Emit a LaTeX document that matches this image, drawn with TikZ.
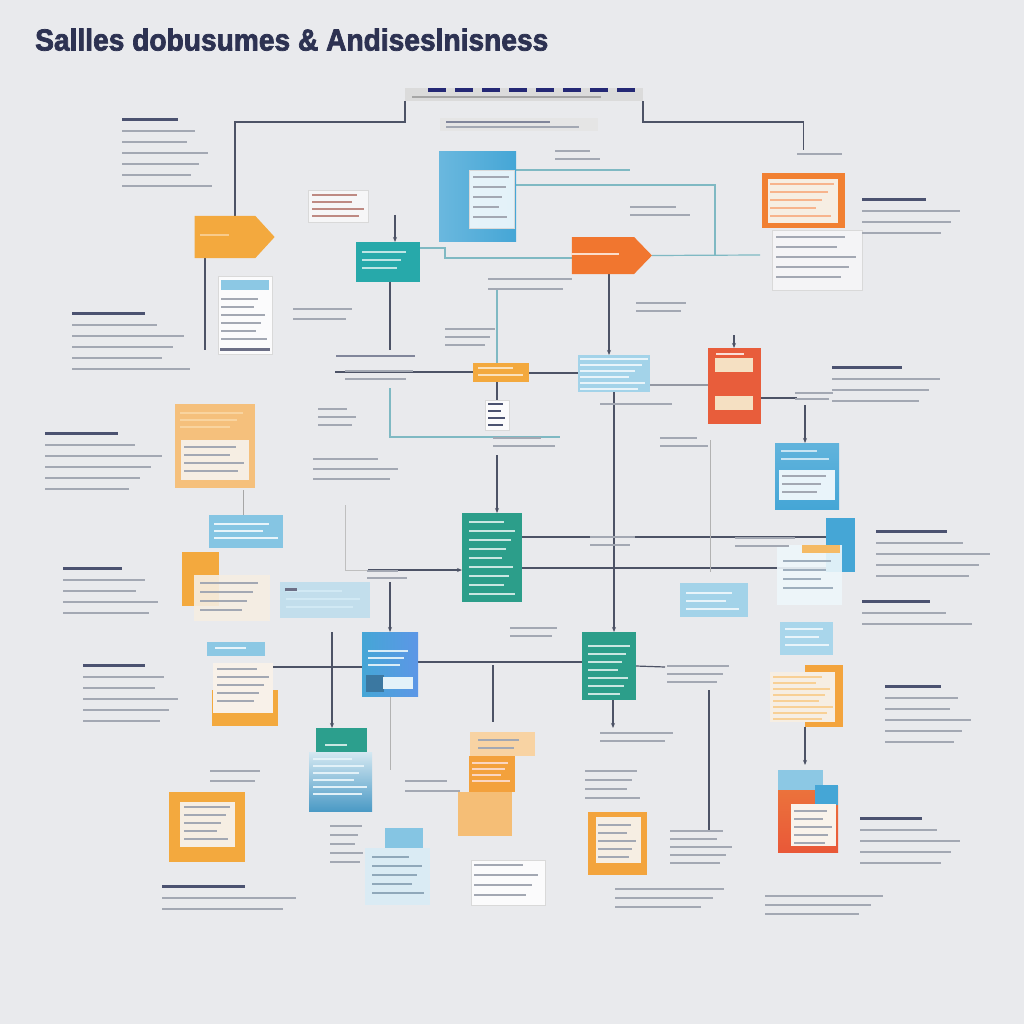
\documentclass[tikz,border=0pt]{standalone}
\usepackage{fontspec}
\newfontfamily\titlefont{Liberation Sans}[BoldFeatures={FakeBold=2.5}]
\usetikzlibrary{shapes.symbols,arrows.meta}
\definecolor{bgc}{HTML}{E9EAED}
\definecolor{navy}{HTML}{2D3252}
\definecolor{txt}{HTML}{A3A8B3}
\definecolor{head}{HTML}{4B5270}
\definecolor{lnc}{HTML}{4D5366}
\definecolor{lnt}{HTML}{7FB9C3}
\definecolor{orng}{HTML}{F3A93E}
\definecolor{orngl}{HTML}{F5C07C}
\definecolor{orred}{HTML}{F1762F}
\definecolor{tealc}{HTML}{27A9AA}
\definecolor{grn}{HTML}{2C9E8A}
\definecolor{bluec}{HTML}{45A6D6}
\definecolor{skyb}{HTML}{8CC8E4}
\definecolor{paleb}{HTML}{C2DEEC}
\definecolor{redc}{HTML}{E85D3B}
\definecolor{cream}{HTML}{F6EEE3}
\pgfdeclarelayer{back}
\pgfsetlayers{back,main}
\newcommand\mybars[6]{\foreach \i in {1,...,#5}{\pgfmathsetmacro\f{0.72+0.28*mod(\i*5+#3,7)/6}\fill[#1] (#2,{#3+(\i-1)*#6}) rectangle ++({#4*\f},2.4);}}
\newcommand\mytb[4]{\fill[head] (#1,#2) rectangle ++({0.62*#3},3);\mybars{txt}{#1}{#2+12}{#3}{#4}{11}}
\tikzset{
  bx/.style={inner sep=0pt, outer sep=0pt, draw=none},
  sig/.style={bx, shape=signal, signal to=east},
  panel/.style={bx, fill=white, fill opacity=0.85, draw=black!15, line width=0.4pt},
  conn/.style={draw=lnc, line width=1.2pt},
  connl/.style={draw=lnc!60, line width=1.1pt},
  connt/.style={draw=lnt, line width=1.2pt},
  arr/.style={-{Stealth[length=5pt,width=4pt]}}
}
\begin{document}
\begin{tikzpicture}[x=1pt,y=-1pt]
\begin{pgfonlayer}{back}
\fill[bgc] (0,0) rectangle (1024,1024);
\end{pgfonlayer}
\useasboundingbox (0,0) rectangle (1024,1024);
% title
\node[anchor=south west, inner sep=0pt, text=navy] (title) at (35,51) {\resizebox{513pt}{22pt}{\titlefont\bfseries Sallles dobusumes \& Andiseslnisness}};
% header
\node[bx, fill=black!14, minimum width=238pt, minimum height=13pt] (hdr) at (524,95) {};
\foreach \x in {428,455,...,630}{\fill[navy!80!blue] (\x,88.5) rectangle ++(18,4);}
\mybars{black!35}{412}{96}{220}{1}{4}
\node[bx, fill=black!10, minimum width=158pt, minimum height=13pt] (sub) at (519,124.5) {};
\mybars{head!70}{446}{121}{145}{1}{5}
\mybars{txt}{446}{126}{140}{1}{5}
% boxes
\node[sig, fill=orng, minimum width=80pt, minimum height=42pt, signal pointer angle=95] (a1) at (225,237) {};
\mybars{orng!60!white}{200}{234}{38}{1}{5}
\node[bx, fill=tealc, minimum width=64pt, minimum height=40pt] (t1) at (388,262) {};
\mybars{white!70!tealc}{362}{251}{48}{3}{8}
\node[bx, left color=bluec!80!white, right color=bluec, minimum width=77pt, minimum height=89pt] (b1) at (477.5,196.5) {};
\node[panel, minimum width=45pt, minimum height=58pt] (b1p) at (492,199) {};
\mybars{txt}{473}{176}{36}{5}{10}
\node[sig, fill=orred, minimum width=80pt, minimum height=37pt, signal pointer angle=92] (a2) at (603,255.5) {};
\mybars{white!75!orred}{571}{253}{48}{1}{5}
\node[bx, fill=orred!80!orng, minimum width=83pt, minimum height=55pt] (o1) at (803.5,200.5) {};
\node[bx, fill=cream, minimum width=70pt, minimum height=44pt] (o1p) at (803,201) {};
\mybars{orred!55!white}{770}{183}{64}{5}{8}
\node[panel, minimum width=90pt, minimum height=60pt, fill opacity=0.5] (w0) at (817,260) {};
\mybars{txt}{776}{236}{80}{5}{10}
\node[bx, fill=redc, minimum width=53pt, minimum height=76pt] (r1) at (734.5,386) {};
\fill[cream!80!orng] (715,358) rectangle ++(38,14);
\fill[cream!80!orng] (715,396) rectangle ++(38,14);
\mybars{white!80!redc}{716}{353}{36}{1}{4}
\node[bx, top color=bluec!85!white, bottom color=bluec, minimum width=64pt, minimum height=66pt] (bl1) at (807,476) {};
\node[bx, fill=white!88!bluec, minimum width=56pt, minimum height=30pt] (bl1p) at (807,485) {};
\mybars{white!70!bluec}{781}{450}{50}{2}{8}
\mybars{txt}{782}{475}{48}{3}{8}
\node[bx, fill=orng, minimum width=56pt, minimum height=19pt] (os) at (501,372.5) {};
\mybars{white!65!orng}{478}{367}{45}{2}{7}
\node[bx, fill=skyb!80!white, minimum width=72pt, minimum height=37pt] (lb1) at (614,373.5) {};
\mybars{white!80!skyb}{580}{358}{68}{6}{6}
\node[bx, fill=grn, minimum width=60pt, minimum height=89pt] (g1) at (492,557.5) {};
\mybars{white!75!grn}{469}{521}{46}{9}{9}
\node[bx, left color=bluec, right color=bluec!75!blue!80!white, minimum width=56pt, minimum height=64pt] (bm) at (390,664) {};
\mybars{white!80!bluec}{368}{650}{44}{3}{7}
\fill[bluec!60!navy] (366,675) rectangle ++(18,17);
\fill[white!85!bluec] (383,677) rectangle ++(30,12);
\node[bx, fill=grn, minimum width=54pt, minimum height=68pt] (g2) at (609,666) {};
\mybars{white!75!grn}{588}{645}{42}{7}{8}
\node[bx, fill=skyb!90!bluec, minimum width=74pt, minimum height=33pt] (lb2) at (246,531.5) {};
\mybars{white!80!skyb}{214}{523}{64}{3}{7}
\node[bx, fill=orngl, minimum width=80pt, minimum height=84pt] (o2) at (215,446) {};
\node[bx, fill=cream, minimum width=68pt, minimum height=40pt] (o2p) at (215,460) {};
\mybars{orng!50!white}{180}{412}{70}{3}{7}
\mybars{txt}{184}{446}{60}{4}{8}
\node[panel, minimum width=54pt, minimum height=78pt] (w2) at (245,315) {};
\fill[skyb] (221,280) rectangle ++(48,10);
\mybars{txt}{221}{298}{46}{6}{8}
\fill[navy!70] (220,348) rectangle ++(50,3);
\node[bx, fill=orng, minimum width=37pt, minimum height=54pt] (o3) at (200.5,579) {};
\node[bx, fill=cream, fill opacity=0.9, minimum width=76pt, minimum height=46pt] (p3) at (232,598) {};
\mybars{txt}{200}{582}{58}{4}{9}
\node[bx, fill=paleb, minimum width=90pt, minimum height=36pt] (lb3) at (325,600) {};
\mybars{white!60!skyb}{286}{590}{78}{3}{8}
\fill[navy!70] (285,588) rectangle ++(12,3);
\node[bx, fill=skyb!80!white, minimum width=68pt, minimum height=34pt] (lb4) at (714,600) {};
\mybars{white!80!skyb}{686}{592}{56}{3}{8}
\node[bx, fill=bluec, minimum width=29pt, minimum height=54pt] (bl2) at (840.5,545) {};
\node[bx, fill=white!85!skyb, fill opacity=0.9, minimum width=65pt, minimum height=60pt] (p4) at (809.5,575) {};
\fill[orng!80!white] (802,545) rectangle ++(38,8);
\mybars{txt!80!skyb}{783}{560}{50}{4}{9}
\node[bx, fill=skyb!75!white, minimum width=53pt, minimum height=33pt] (lb5) at (806.5,638.5) {};
\mybars{white!80!skyb}{785}{628}{44}{3}{8}
\node[bx, fill=orng!90!orred, minimum width=38pt, minimum height=62pt] (o4) at (824,696) {};
\node[bx, fill=cream, minimum width=65pt, minimum height=50pt] (p5) at (802.5,697) {};
\mybars{orng!55!white}{773}{676}{60}{8}{6}
\node[bx, fill=orng, minimum width=66pt, minimum height=36pt] (o5) at (245,708) {};
\node[bx, fill=cream!80!white, minimum width=60pt, minimum height=50pt] (p6) at (243,688) {};
\mybars{txt}{217}{668}{52}{5}{8}
\node[bx, fill=skyb, minimum width=58pt, minimum height=14pt] (lb6h) at (236,649) {};
\mybars{white!80!skyb}{215}{647}{40}{1}{5}
\node[bx, fill=grn!90!tealc, minimum width=51pt, minimum height=24pt] (t2) at (341.5,740) {};
\mybars{white!75!grn}{325}{744}{30}{1}{5}
\node[bx, top color=paleb!70!white, bottom color=bluec!85!navy!95, minimum width=63pt, minimum height=59pt] (lb7) at (340.5,781.5) {};
\mybars{white!75!skyb}{313}{758}{54}{6}{7}
\node[bx, fill=orngl!70!white, minimum width=65pt, minimum height=24pt] (o6a) at (502.5,744) {};
\mybars{txt}{478}{739}{50}{2}{8}
\node[bx, fill=orng!85!orred, minimum width=46pt, minimum height=36pt] (o6b) at (492,774) {};
\mybars{white!70!orred}{472}{762}{40}{4}{6}
\node[bx, fill=orngl!90!orng, minimum width=54pt, minimum height=44pt] (o6c) at (485,814) {};
\node[bx, fill=orng, minimum width=76pt, minimum height=70pt] (o7) at (207,827) {};
\node[bx, fill=cream, minimum width=55pt, minimum height=45pt] (p7) at (207,824) {};
\mybars{txt}{184}{806}{46}{5}{8}
\node[bx, fill=skyb!90!bluec, minimum width=38pt, minimum height=20pt] (lb8) at (404,838) {};
\node[bx, fill=paleb!60!white, minimum width=65pt, minimum height=57pt] (p8) at (397.5,876.5) {};
\mybars{txt!80!bluec}{372}{856}{52}{5}{9}
\node[bx, fill=orng!90!orred, minimum width=59pt, minimum height=63pt] (o8) at (617.5,843.5) {};
\node[bx, fill=cream, minimum width=45pt, minimum height=46pt] (p9) at (618,840) {};
\mybars{txt}{598}{824}{38}{5}{8}
\node[bx, top color=redc!70!orng, bottom color=redc!95!red, minimum width=60pt, minimum height=66pt] (rd) at (808,819) {};
\node[bx, fill=skyb, minimum width=45pt, minimum height=20pt] (rdt) at (800.5,780) {};
\node[bx, fill=bluec, minimum width=23pt, minimum height=20pt] (rdb) at (826.5,795) {};
\node[bx, fill=cream!70!white, minimum width=45pt, minimum height=42pt] (p10) at (813,825) {};
\mybars{txt}{794}{810}{38}{5}{8}
\node[panel, minimum width=74pt, minimum height=45pt] (w1) at (508,882.5) {};
\mybars{txt}{474}{864}{64}{4}{10}
\node[panel, fill opacity=0.6, minimum width=60pt, minimum height=32pt] (card) at (338,206) {};
\mybars{redc!40!txt}{312}{194}{52}{4}{7}
\node[panel, minimum width=24pt, minimum height=30pt] (sdoc) at (497,415) {};
\mybars{head}{488}{403}{18}{4}{7}
% connectors
\begin{pgfonlayer}{back}
\coordinate (hl) at (300,122);
\coordinate (hr) at (720,122);
\draw[conn] (hdr.south west) |- (hl) -| ([xshift=10pt]a1.north);
\draw[conn] (hdr.south east) |- (hr) -| ([yshift=23pt]o1.north);
\coordinate (t1in) at (395,215);
\draw[conn,arr] (t1in) -- (t1in |- t1.north);
\coordinate (t1out) at (390,350);
\draw[conn] (t1out |- t1.south) -- (t1out);
\coordinate (k0) at (445,258);
\draw[connt] ([yshift=14pt]t1.east) -| (k0) -- (k0 -| a2.west);
\coordinate (k1) at (715,185);
\draw[connt] (k1 -| b1.east) -- (k1) |- (a2.east);
\coordinate (k1b) at (630,170);
\draw[connt] (k1b -| b1.east) -- (k1b);
\coordinate (k1c) at (760,255);
\draw[connt] (a2.east) -- (k1c);
\draw[conn,arr] ([xshift=6pt]a2.south) -- ([xshift=-5pt]lb1.north);
\coordinate (a1o) at (205,350);
\draw[conn] (a1o |- a1.south) -- (a1o);
\coordinate (v1) at (497,290);
\draw[connt] (v1) -- (v1 |- os.north);
\draw[conn] (v1 |- os.south) -- (v1 |- sdoc.north);
\coordinate (v2) at (497,455);
\draw[conn,arr] (v2) -- (v2 |- g1.north);
\coordinate (h1) at (390,388);
\coordinate (h2) at (560,437);
\draw[connt] (h1) |- (h2);
\coordinate (h3) at (335,372);
\draw[conn] (h3) -- (h3 -| os.west);
\coordinate (h4) at (540,373);
\draw[conn] (h4 -| os.east) -- (h4 -| lb1.west);
\draw[conn,arr] (lb1.south) -- (lb1.south |- g2.north);
\coordinate (r1in) at (734,335);
\draw[conn,arr] (r1in) -- (r1in |- r1.north);
\coordinate (r1l) at (650,385);
\draw[connl] (r1l) -- (r1l -| r1.west);
\coordinate (r1r) at (797,398);
\draw[conn] (r1r -| r1.east) -- (r1r);
\coordinate (r1d) at (805,405);
\draw[conn,arr] (r1d) -- (r1d |- bl1.north);
\coordinate (k3) at (830,537);
\coordinate (k4) at (830,568);
\draw[conn] (k3 -| g1.east) -- (k3);
\draw[conn] (k4 -| g1.east) -- (k4);
\coordinate (k5) at (368,570);
\draw[conn,arr] (k5) -- (k5 -| g1.west);
\coordinate (k6) at (345,505);
\draw[draw=black!25, line width=1pt] (k6) -- (k6 |- k5) -- (k5);
\coordinate (k6b) at (243,490);
\draw[draw=black!35, line width=1pt] (k6b) -- (k6b |- lb2.north);
\coordinate (k7) at (390,582);
\draw[conn,arr] (k7) -- (k7 |- bm.north);
\coordinate (k8) at (710,440);
\coordinate (k8b) at (710,572);
\draw[draw=black!30, line width=1pt] (k8) -- (k8b);
\coordinate (k9) at (258,667);
\draw[conn] (k9) -- (k9 -| bm.west);
\coordinate (k20) at (500,662);
\draw[conn] (k20 -| bm.east) -- (k20 -| g2.west);
\coordinate (k10) at (332,632);
\draw[conn,arr] (k10) -- (k10 |- t2.north);
\coordinate (k11) at (390,770);
\draw[draw=black!30, line width=1pt] (bm.south) -- (k11);
\coordinate (k12) at (493,665);
\coordinate (k13) at (493,722);
\draw[conn] (k12) -- (k13);
\coordinate (k14) at (665,667);
\draw[conn] (g2.east) -- (k14);
\coordinate (k15) at (613,728);
\draw[conn,arr] (k15 |- g2.south) -- (k15);
\coordinate (k16) at (709,690);
\coordinate (k17) at (709,830);
\draw[conn] (k16) -- (k17);
\coordinate (k18) at (805,727);
\coordinate (k19) at (805,765);
\draw[conn,arr] (k18) -- (k19);
\end{pgfonlayer}
% text blocks
\mytb{122}{118}{90}{6}
\mytb{72}{312}{118}{5}
\mytb{45}{432}{117}{5}
\mytb{63}{567}{95}{4}
\mytb{83}{664}{100}{5}
\mytb{162}{885}{134}{2}
\mytb{862}{198}{103}{3}
\mytb{832}{366}{113}{3}
\mytb{876}{530}{114}{4}
\mytb{862}{600}{110}{2}
\mytb{885}{685}{90}{5}
\mytb{860}{817}{100}{4}
\mybars{txt}{555}{150}{45}{2}{8}
\mybars{txt}{797}{153}{50}{1}{6}
\mybars{txt}{630}{206}{60}{2}{8}
\mybars{txt}{488}{278}{98}{2}{10}
\mybars{txt}{293}{308}{62}{2}{10}
\mybars{txt}{445}{328}{55}{3}{8}
\mybars{txt}{636}{302}{50}{2}{8}
\mybars{head!70}{336}{355}{92}{1}{8}
\mybars{txt}{345}{370}{75}{2}{8}
\mybars{txt}{318}{408}{40}{3}{8}
\mybars{txt}{313}{458}{85}{3}{10}
\mybars{txt}{493}{437}{62}{2}{8}
\mybars{txt}{660}{437}{48}{2}{8}
\mybars{txt}{600}{403}{88}{1}{8}
\mybars{txt}{795}{392}{40}{2}{6}
\mybars{txt}{590}{536}{55}{2}{8}
\mybars{txt}{735}{537}{70}{2}{8}
\mybars{txt}{367}{570}{40}{2}{7}
\mybars{txt}{510}{627}{58}{2}{8}
\mybars{txt}{667}{665}{65}{3}{8}
\mybars{txt}{600}{732}{90}{2}{8}
\mybars{txt}{585}{770}{55}{4}{9}
\mybars{txt}{405}{780}{55}{2}{10}
\mybars{txt}{210}{770}{52}{2}{10}
\mybars{txt}{330}{825}{35}{5}{9}
\mybars{txt}{670}{830}{65}{5}{8}
\mybars{txt}{615}{888}{120}{3}{9}
\mybars{txt}{765}{895}{130}{3}{9}
\end{tikzpicture}
\end{document}
